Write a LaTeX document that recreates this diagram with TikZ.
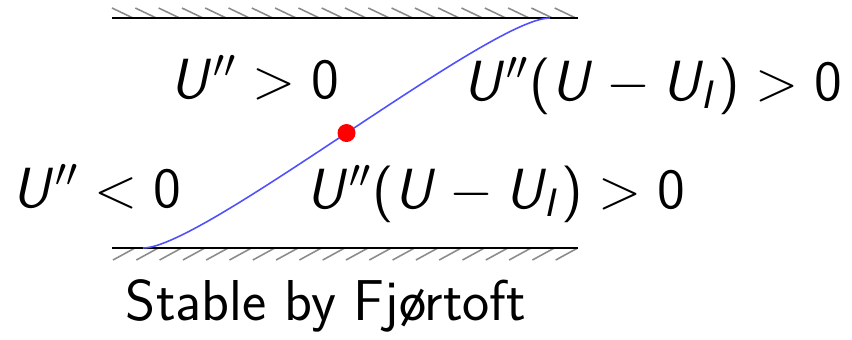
\RequirePackage{fix-cm}
\documentclass[tikz,border=0pt]{standalone}
\usetikzlibrary{calc}
% sans-serif math letters, as on the slide
\DeclareSymbolFont{sfletters}{OT1}{cmss}{m}{sl}
\DeclareSymbolFont{sfupright}{OT1}{cmss}{m}{n}
\DeclareMathSymbol{U}{\mathalpha}{sfletters}{`U}
\DeclareMathSymbol{I}{\mathalpha}{sfletters}{`I}
\DeclareMathSymbol{0}{\mathalpha}{sfupright}{`0}
\DeclareMathSymbol{(}{\mathopen}{sfupright}{`(}
\DeclareMathSymbol{)}{\mathclose}{sfupright}{`)}
\definecolor{chatch}{HTML}{8C8C8C}
\definecolor{cprofile}{HTML}{5050FF}
\tikzset{
  every picture/.style={font=\sffamily\fontsize{16.4}{19}\selectfont},
  wall/.style={draw=black, line width=0.8pt},
  hatch/.style={draw=chatch, line width=0.45pt},
  profile/.style={draw=cprofile, line width=0.45pt},
  cond/.style={anchor=base, inner sep=0pt, font=\sffamily\fontsize{16.1}{19}\selectfont},
  note/.style={anchor=base, inner sep=0pt},
  infl/.style={circle, fill=red, inner sep=0pt, minimum size=0.18cm},
}
\begin{document}
\begin{tikzpicture}[x=0.01cm, y=-0.01cm]
  \useasboundingbox (0,0) rectangle (852,339);
  % channel walls
  \coordinate (tl) at (112,18);
  \coordinate (tr) at (578,18);
  \coordinate (bl) at (112,248);
  \coordinate (br) at (578,248);
  \foreach \i in {0,...,19} {
    \draw[hatch] ($(tl)+(23.3*\i,-10)$) -- ++(21,10);
    \draw[hatch] ($(bl)+(23.3*\i+23,0)$) -- ++(-22,12);
  }
  \draw[wall] (tl) -- (tr);
  \draw[wall] (bl) -- (br);
  % velocity profile with its inflection point
  \coordinate (lo) at (143,248);
  \coordinate (hi) at (550,18);
  \draw[profile] (lo) .. controls +(60,0) and +(-60,0) .. (hi);
  \node[infl] (ip) at ($(lo)!0.5!(hi)$) {};
  \node[cond] (upos) at (255,98) {$U''>0$};
  \node[cond] (uposr) at (653,100) {$U''(U-U_I)>0$};
  \node[cond] (uneg) at (97,207) {$U''<0$};
  \node[cond] (unegr) at (496,208) {$U''(U-U_I)>0$};
  \node[note] (verdict) at (326,320) {Stable by Fjørtoft};
\end{tikzpicture}
\end{document}
